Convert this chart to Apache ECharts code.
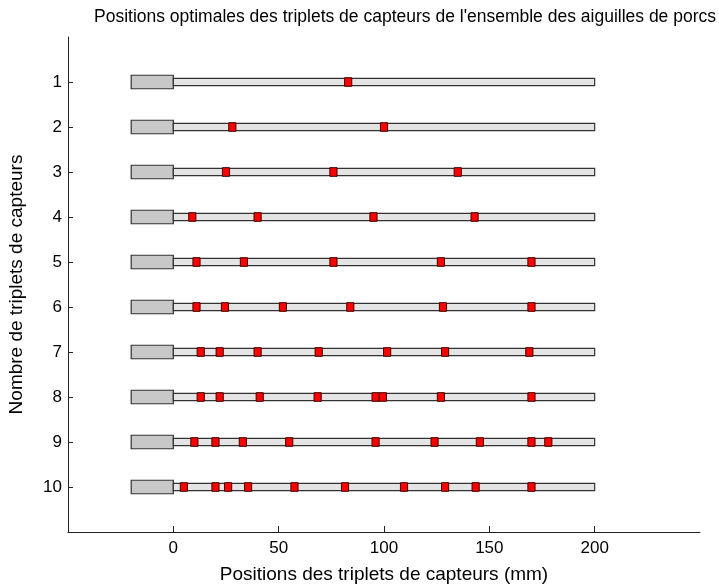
<!DOCTYPE html>
<html>
<head>
<meta charset="utf-8">
<script src="https://cdn.jsdelivr.net/npm/echarts@6/dist/echarts.min.js"></script>
<style>
html, body { margin: 0; padding: 0; background: #fff; }
#chart { width: 719px; height: 585px; }
</style>
</head>
<body>
<div id="chart"></div>
<script>
// nombre de triplets (lignes)
var rows = [1, 2, 3, 4, 5, 6, 7, 8, 9, 10];
// positions des triplets (mm), une liste par ligne
var sensorPositions = [
    [83],
    [28, 100],
    [25, 76, 135],
    [9, 40, 95, 143],
    [11, 33.5, 76, 127, 170],
    [11, 24.5, 52, 84, 128, 170],
    [13, 22, 40, 69, 101.5, 129, 169],
    [13, 22, 41, 68.5, 96, 99.5, 127, 170],
    [10, 20, 33, 55, 96, 124, 145.5, 170, 178],
    [5, 20, 26, 35.5, 57.5, 81.5, 109.5, 129, 143.5, 170]
];
var handleRange = [-20, 0];   // manche
var needleRange = [0, 200];   // aiguille
var xTicks = [0, 50, 100, 150, 200];

var FONT = '"Liberation Sans", Arial, sans-serif';

function rectItem(x0, x1, row, h, api, style) {
    var p0 = api.coord([x0, row]);
    var p1 = api.coord([x1, row]);
    var hh = api.size([0, h])[1];
    return {
        type: 'rect',
        shape: { x: p0[0], y: p0[1] - hh / 2, width: p1[0] - p0[0], height: hh },
        style: style
    };
}

var handleData = rows.map(function (r) { return [handleRange[0], handleRange[1], r]; });
var needleData = rows.map(function (r) { return [needleRange[0], needleRange[1], r]; });
var markerData = [];
sensorPositions.forEach(function (list, i) {
    list.forEach(function (p) { markerData.push([p, rows[i]]); });
});

var option = {
    animation: false,
    backgroundColor: '#fff',
    title: {
        text: "Positions optimales des triplets de capteurs de l'ensemble des aiguilles de porcs",
        left: 400, top: 3, textAlign: 'center',
        textStyle: { fontFamily: FONT, fontSize: 17.5, fontWeight: 'normal', color: '#000' }
    },
    grid: { left: 68, right: 19, top: 37, bottom: 53, containLabel: false, outerBoundsMode: 'none' },
    xAxis: {
        type: 'value', min: -50, max: 250, interval: 50, position: 'bottom',
        name: 'Positions des triplets de capteurs (mm)',
        nameLocation: 'middle', nameGap: 33,
        nameTextStyle: { fontFamily: FONT, fontSize: 19, color: '#000' },
        axisLine: { show: true, onZero: false, lineStyle: { color: '#222', width: 1 } },
        axisTick: { show: true, inside: true, length: 6, customValues: xTicks, lineStyle: { color: '#222' } },
        axisLabel: { customValues: xTicks, margin: 8, fontFamily: FONT, fontSize: 17, color: '#000' },
        splitLine: { show: false }
    },
    yAxis: {
        type: 'value', min: 0, max: 11, inverse: true, position: 'left',
        name: 'Nombre de triplets de capteurs',
        nameLocation: 'middle', nameGap: 42, nameRotate: 90,
        nameTextStyle: { fontFamily: FONT, fontSize: 19, color: '#000' },
        axisLine: { show: true, onZero: false, lineStyle: { color: '#222', width: 1 } },
        axisTick: { show: true, inside: true, length: 5, customValues: rows, lineStyle: { color: '#222' } },
        axisLabel: { customValues: rows, margin: 6, fontFamily: FONT, fontSize: 17, color: '#000' },
        splitLine: { show: false }
    },
    series: [
        {
            type: 'custom', name: 'manche', data: handleData,
            encode: { x: [0, 1], y: 2 },
            renderItem: function (params, api) {
                return rectItem(api.value(0), api.value(1), api.value(2), 0.3, api,
                    { fill: '#c8c8c8', stroke: '#333', lineWidth: 1.2 });
            },
            z: 2
        },
        {
            type: 'custom', name: 'aiguille', data: needleData,
            encode: { x: [0, 1], y: 2 },
            renderItem: function (params, api) {
                return rectItem(api.value(0), api.value(1), api.value(2), 0.16, api,
                    { fill: '#e4e4e4', stroke: '#333', lineWidth: 1.2 });
            },
            z: 3
        },
        {
            type: 'custom', name: 'capteurs', data: markerData,
            encode: { x: 0, y: 1 },
            renderItem: function (params, api) {
                var x = api.value(0);
                return rectItem(x - 1.7, x + 1.7, api.value(1), 0.19, api,
                    { fill: '#ff0000', stroke: '#400000', lineWidth: 1 });
            },
            z: 4
        }
    ]
};

var chart = echarts.init(document.getElementById('chart'));
chart.setOption(option);
</script>
</body>
</html>
